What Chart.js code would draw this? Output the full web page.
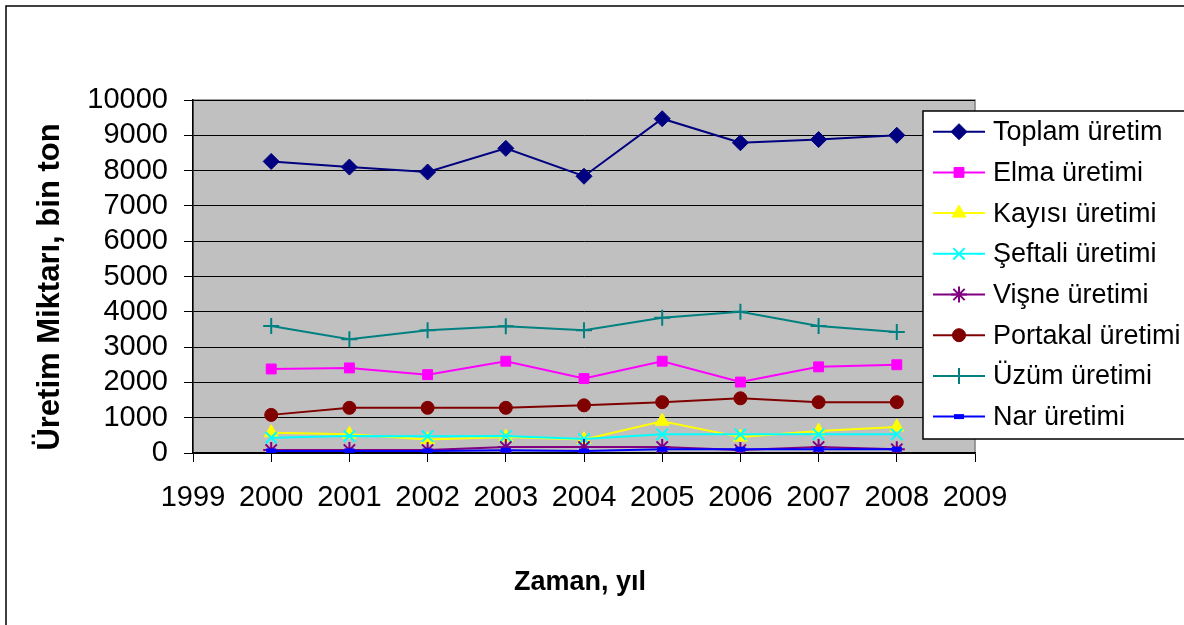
<!DOCTYPE html>
<html>
<head>
<meta charset="utf-8">
<script src="https://cdn.jsdelivr.net/npm/chart.js@4.4.1/dist/chart.umd.min.js"></script>
<style>
    html, body { margin: 0; padding: 0; background: #fff; }
    #wrap { width: 1184px; height: 625px; }
</style>
</head>
<body>
<div id="wrap"><canvas id="chart" width="1184" height="625"></canvas></div>
<script>
const years = [2000, 2001, 2002, 2003, 2004, 2005, 2006, 2007, 2008];
const toplam = [8260, 8100, 7960, 8630, 7840, 9470, 8790, 8880, 9000];
const elma = [2380, 2410, 2220, 2600, 2110, 2600, 2010, 2440, 2500];
const kayisi = [575, 530, 380, 450, 380, 900, 450, 620, 735];
const seftali = [435, 480, 475, 480, 395, 530, 530, 530, 530];
const visne = [85, 85, 85, 170, 170, 170, 85, 170, 105];
const portakal = [1080, 1280, 1280, 1280, 1350, 1440, 1550, 1440, 1440];
const uzum = [3600, 3220, 3480, 3590, 3480, 3830, 4000, 3600, 3430];
const nar = [60, 60, 60, 80, 57, 105, 105, 105, 105];

const seriesNames = ["Toplam üretim", "Elma üretimi", "Kayısı üretimi", "Şeftali üretimi",
    "Vişne üretimi", "Portakal üretimi", "Üzüm üretimi", "Nar üretimi"];
const seriesValues = [toplam, elma, kayisi, seftali, visne, portakal, uzum, nar];
const seriesColors = ["#000080", "#ff00ff", "#ffff00", "#00ffff", "#800080", "#800000", "#008080", "#0000ff"];
const seriesMarkers = ["rectRot", "rect", "triangle", "crossRot", "star", "circle", "cross", "line"];
const markerSizes = [8, 7, 8, 8, 8, 6.5, 8, 5];
const markerBorders = [1, 1, 1, 2, 2, 1, 2, 5];

const xTitle = "Zaman, yıl";
const yTitle = "Üretim Miktarı, bin ton";

Chart.defaults.font.family = "'Liberation Sans', Arial, sans-serif";
Chart.defaults.color = "#000";

const datasets = seriesNames.map((name, i) => ({
    label: name,
    data: years.map((y, j) => ({ x: y, y: seriesValues[i][j] })),
    borderColor: seriesColors[i],
    backgroundColor: seriesColors[i],
    borderWidth: 2,
    pointStyle: seriesMarkers[i],
    pointRadius: markerSizes[i],
    pointBorderWidth: markerBorders[i],
    pointBackgroundColor: seriesColors[i],
    pointBorderColor: seriesColors[i],
    tension: 0,
    order: seriesNames.length - i
}));

const framePlugin = {
    id: "frame",
    beforeDraw(chart) {
        const { ctx, chartArea: a } = chart;
        ctx.save();
        ctx.fillStyle = "#fff";
        ctx.fillRect(0, 0, chart.width, chart.height);
        ctx.strokeStyle = "#000";
        ctx.lineWidth = 1.5;
        ctx.beginPath();
        ctx.moveTo(6, chart.height + 5);
        ctx.lineTo(6, 6);
        ctx.lineTo(chart.width + 5, 6);
        ctx.stroke();
        ctx.fillStyle = "#c0c0c0";
        ctx.fillRect(a.left, a.top, a.right - a.left, a.bottom - a.top);
        ctx.strokeStyle = "#808080";
        ctx.strokeRect(a.left, a.top, a.right - a.left, a.bottom - a.top);

        // axis titles
        ctx.fillStyle = "#000";
        ctx.textAlign = "center";
        ctx.textBaseline = "middle";
        ctx.font = "bold 27px 'Liberation Sans', Arial, sans-serif";
        ctx.fillText(xTitle, 580, 583);
        ctx.translate(50, 287);
        ctx.rotate(-Math.PI / 2);
        ctx.font = "bold 31px 'Liberation Sans', Arial, sans-serif";
        ctx.fillText(yTitle, 0, 0);
        ctx.restore();
    },
    afterDraw(chart) {
        // legend box, sits over the right part of the plot area
        const ctx = chart.ctx;
        ctx.save();
        ctx.fillStyle = "#fff";
        ctx.fillRect(923, 111, 280, 328);
        ctx.strokeStyle = "#000";
        ctx.lineWidth = 1.5;
        ctx.strokeRect(923, 111, 280, 328);
        ctx.font = "27px 'Liberation Sans', Arial, sans-serif";
        ctx.textBaseline = "middle";
        chart.data.datasets.forEach((ds, i) => {
            const y = 131.7 + i * 40.7;
            ctx.strokeStyle = ds.borderColor;
            ctx.lineWidth = 2;
            ctx.beginPath();
            ctx.moveTo(933, y);
            ctx.lineTo(985, y);
            ctx.stroke();
            ctx.fillStyle = ds.pointBackgroundColor;
            ctx.strokeStyle = ds.pointBorderColor;
            ctx.lineWidth = ds.pointBorderWidth;
            Chart.helpers.drawPoint(ctx, {
                pointStyle: ds.pointStyle,
                radius: ds.pointRadius,
                borderWidth: ds.pointBorderWidth,
                rotation: 0
            }, 959, y);
            ctx.fillStyle = "#000";
            ctx.fillText(ds.label, 993, y + 1);
        });
        ctx.restore();
    }
};

const ctx = document.getElementById("chart").getContext("2d");
new Chart(ctx, {
    type: "line",
    data: { datasets },
    plugins: [framePlugin],
    options: {
        responsive: false,
        animation: false,
        layout: { padding: { left: 0, top: 100, right: 209, bottom: 0 } },
        plugins: {
            legend: { display: false },
            tooltip: { enabled: false }
        },
        scales: {
            x: {
                type: "linear",
                min: 1999,
                max: 2009,
                afterFit: (scale) => { scale.height = 172; },
                ticks: {
                    stepSize: 1,
                    autoSkip: false,
                    maxRotation: 0,
                    padding: 19,
                    font: { size: 29 },
                    callback: (v) => String(v)
                },
                grid: { drawOnChartArea: false, drawTicks: true, tickLength: 9, color: "#000" },
                border: { color: "#000", width: 1.5 }
            },
            y: {
                min: 0,
                max: 10000,
                afterFit: (scale) => { scale.width = 193; },
                ticks: {
                    stepSize: 1000,
                    autoSkip: false,
                    padding: 16,
                    font: { size: 29 },
                    callback: (v) => String(v)
                },
                grid: { color: "#000", lineWidth: 1, tickLength: 9 },
                border: { color: "#000", width: 1.5 }
            }
        }
    }
});
</script>
</body>
</html>
